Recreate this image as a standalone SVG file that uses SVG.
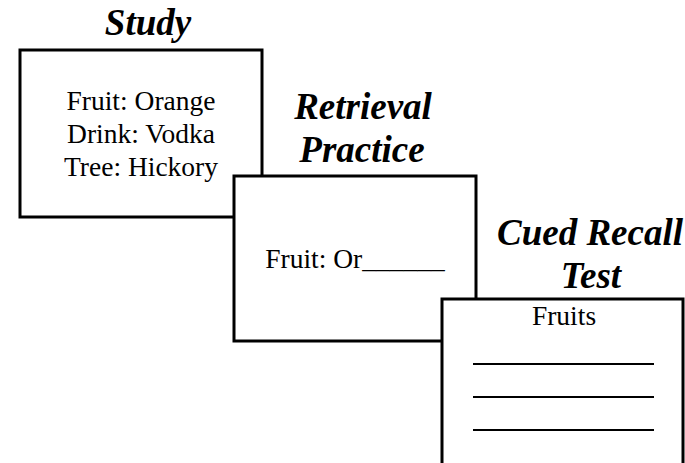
<svg xmlns="http://www.w3.org/2000/svg" width="685" height="463" viewBox="0 0 685 463">
<style>
.box{fill:#fff;stroke:#000;stroke-width:3}
.title{font-family:"Liberation Serif",serif;font-weight:bold;font-style:italic;font-size:37px;fill:#000;text-anchor:middle}
.body{font-family:"Liberation Serif",serif;font-size:27.5px;fill:#000;text-anchor:middle}
.blank{stroke:#000;stroke-width:2}
</style>
<rect width="685" height="463" fill="#fff"/>
<g id="study">
<text class="title" x="148" y="35">Study</text>
<rect class="box" x="20" y="50" width="242" height="167"/>
<text class="body" x="141" y="110">Fruit: Orange</text>
<text class="body" x="141" y="143">Drink: Vodka</text>
<text class="body" x="141" y="176">Tree: Hickory</text>
</g>
<g id="retrieval">
<text class="title" x="363" y="119">Retrieval</text>
<text class="title" x="362" y="162">Practice</text>
<rect class="box" x="234" y="176" width="242" height="165"/>
<text class="body" x="355" y="268">Fruit: Or______</text>
</g>
<g id="test">
<text class="title" x="590" y="245">Cued Recall</text>
<text class="title" x="591" y="288">Test</text>
<rect class="box" x="442" y="299" width="241" height="180"/>
<text class="body" x="564" y="325">Fruits</text>
<line class="blank" x1="473" y1="364" x2="654" y2="364"/>
<line class="blank" x1="473" y1="397" x2="654" y2="397"/>
<line class="blank" x1="473" y1="430" x2="654" y2="430"/>
</g>
<g id="connectors"></g>
</svg>
